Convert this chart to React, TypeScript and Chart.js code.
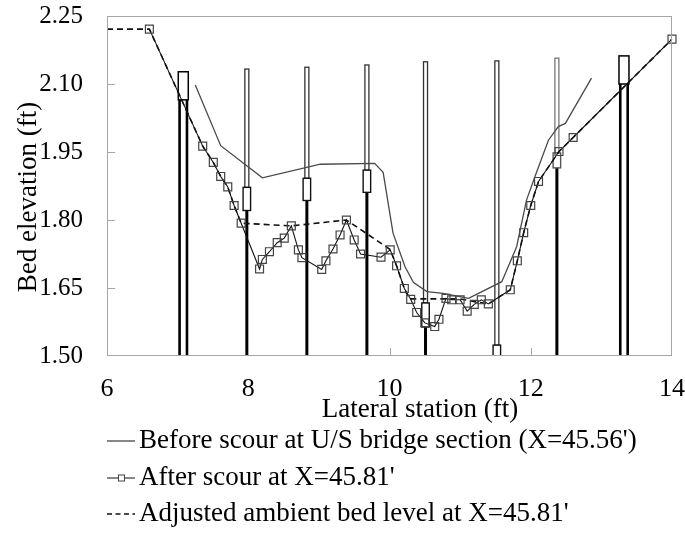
import React, { useEffect, useRef } from 'react';
import { Chart, registerables } from 'chart.js';

Chart.register(...registerables);

// ---------- data ----------
const xTicks = [6, 8, 10, 12, 14];
const yTicks = [1.5, 1.65, 1.8, 1.95, 2.1, 2.25];

const beforeLabel = "Before scour at U/S bridge section (X=45.56')";
const beforeX = [7.25, 7.61, 8.2, 9.02, 9.79, 9.91, 10.05, 10.22, 10.34, 10.53, 10.76, 11.12, 11.59, 11.8, 11.94, 12.06, 12.25, 12.39, 12.49, 12.86];
const beforeY = [2.098, 1.964, 1.893, 1.923, 1.925, 1.905, 1.771, 1.697, 1.662, 1.642, 1.638, 1.627, 1.664, 1.741, 1.844, 1.896, 1.976, 2.006, 2.013, 2.113];

const afterLabel = "After scour at X=45.81'";
const afterX = [6.6, 7.355, 7.505, 7.61, 7.71, 7.8, 7.9, 8.16, 8.2, 8.3, 8.41, 8.51, 8.61, 8.71, 8.76, 9.04, 9.1, 9.2, 9.3, 9.39, 9.5, 9.59, 9.88, 10.01, 10.1, 10.21, 10.3, 10.385, 10.5, 10.64, 10.7, 10.8, 10.88, 11.0, 11.1, 11.2, 11.3, 11.4, 11.71, 11.81, 11.9, 12.0, 12.11, 12.4, 12.6, 14.0];
const afterY = [2.221, 1.963, 1.927, 1.896, 1.873, 1.832, 1.793, 1.692, 1.713, 1.73, 1.75, 1.76, 1.787, 1.734, 1.717, 1.691, 1.71, 1.736, 1.767, 1.8, 1.756, 1.725, 1.718, 1.734, 1.699, 1.649, 1.625, 1.596, 1.573, 1.565, 1.581, 1.627, 1.624, 1.624, 1.599, 1.614, 1.624, 1.615, 1.646, 1.71, 1.772, 1.832, 1.885, 1.951, 1.982, 2.199];

const ambientLabel = "Adjusted ambient bed level at X=45.81'";
const ambientX = [6.0, 6.6, 7.355, 7.505, 7.61, 7.71, 7.8, 7.9, 8.61, 9.39, 10.01, 10.1, 10.21, 10.28, 11.0, 11.2, 11.4, 11.71, 11.81, 11.9, 12.0, 12.11, 12.4, 12.6, 14.0];
const ambientY = [2.221, 2.221, 1.963, 1.927, 1.896, 1.873, 1.832, 1.793, 1.787, 1.8, 1.735, 1.699, 1.649, 1.626, 1.626, 1.62, 1.615, 1.646, 1.71, 1.772, 1.832, 1.885, 1.951, 1.982, 2.199];

// piers: lateral station, top of pile, cap/box top, cap/box bottom, kind
const pierX = [7.08, 7.98, 8.83, 9.68, 10.51, 11.52, 12.37, 13.32];
const pierTop = [2.127, 2.133, 2.137, 2.142, 2.149, 2.151, 2.157, 2.162];
const pierBoxTop = [2.127, 1.872, 1.892, 1.91, 1.617, 1.524, 1.948, 2.162];
const pierBoxBottom = [2.065, 1.821, 1.843, 1.861, 1.564, 1.5, 1.915, 2.1];
const pierKind = ['double', 'single', 'single', 'single', 'single', 'single', 'single', 'double'];

const xTitle = 'Lateral station (ft)';
const yTitle = 'Bed elevation (ft)';

const FONT = "'Liberation Serif', 'Times New Roman', serif";

const toPts = (xs: number[], ys: number[]) => xs.map((x, i) => ({ x, y: ys[i] }));

const decorPlugin = {
  id: 'decor',
  beforeDatasetsDraw(chart: any) {
    const { ctx, chartArea, scales } = chart;
    const xs = scales.x;
    const ys = scales.y;
    ctx.save();
    ctx.beginPath();
    ctx.rect(chartArea.left, chartArea.top, chartArea.right - chartArea.left, chartArea.bottom - chartArea.top);
    ctx.clip();
    const base = ys.getPixelForValue(ys.min);
    for (let i = 0; i < pierX.length; i++) {
      const px = xs.getPixelForValue(pierX[i]);
      const top = ys.getPixelForValue(pierTop[i]);
      const bT = ys.getPixelForValue(pierBoxTop[i]);
      const bB = ys.getPixelForValue(pierBoxBottom[i]);
      if (pierKind[i] === 'double') {
        const hw = 5;
        ctx.fillStyle = '#000';
        ctx.fillRect(px - hw, bB, 2.6, base - bB);
        ctx.fillRect(px + hw - 2.6, bB, 2.6, base - bB);
        ctx.fillStyle = '#fff';
        ctx.fillRect(px - hw, bT, 2 * hw, bB - bT);
        ctx.strokeStyle = '#000';
        ctx.lineWidth = 1.5;
        ctx.strokeRect(px - hw, bT, 2 * hw, bB - bT);
      } else {
        const light = i === 6;
        // stem
        ctx.fillStyle = '#fff';
        ctx.fillRect(px - 2, top, 4, bT - top);
        ctx.strokeStyle = light ? '#777' : '#333';
        ctx.lineWidth = 1.3;
        ctx.strokeRect(px - 2, top, 4, bT - top);
        // leg
        if (base - bB > 0.5) {
          ctx.fillStyle = '#000';
          ctx.fillRect(px - 1.5, bB, 3, base - bB);
        }
        // cap box
        ctx.fillStyle = '#fff';
        ctx.fillRect(px - 3.75, bT, 7.5, bB - bT);
        ctx.strokeStyle = light ? '#555' : '#111';
        ctx.lineWidth = 1.4;
        ctx.strokeRect(px - 3.75, bT, 7.5, bB - bT);
      }
    }
    ctx.restore();
  },
  afterDraw(chart: any) {
    const { ctx, chartArea, scales } = chart;
    const xs = scales.x;
    const ys = scales.y;
    ctx.save();
    // plot frame
    ctx.strokeStyle = '#a6a6a6';
    ctx.lineWidth = 1;
    ctx.strokeRect(chartArea.left + 0.5, chartArea.top + 0.5, chartArea.right - chartArea.left - 1, chartArea.bottom - chartArea.top - 1);
    // inward tick marks
    ctx.beginPath();
    yTicks.slice(1, -1).forEach((v) => {
      const py = Math.round(ys.getPixelForValue(v)) + 0.5;
      ctx.moveTo(chartArea.left, py);
      ctx.lineTo(chartArea.left + 8, py);
    });
    xTicks.slice(1, -1).forEach((v) => {
      const px = Math.round(xs.getPixelForValue(v)) + 0.5;
      ctx.moveTo(px, chartArea.bottom);
      ctx.lineTo(px, chartArea.bottom - 8);
    });
    ctx.stroke();

    // axis titles
    ctx.fillStyle = '#000';
    ctx.font = `27px ${FONT}`;
    ctx.textAlign = 'center';
    ctx.textBaseline = 'middle';
    ctx.fillText(xTitle, 420, 410);
    ctx.save();
    ctx.translate(36, 197);
    ctx.rotate(-Math.PI / 2);
    ctx.textBaseline = 'alphabetic';
    ctx.fillText(yTitle, 0, 0);
    ctx.restore();

    // legend
    const rows = [
      { label: beforeLabel, base: 448 },
      { label: afterLabel, base: 485 },
      { label: ambientLabel, base: 521 },
    ];
    ctx.textAlign = 'left';
    ctx.textBaseline = 'alphabetic';
    rows.forEach((r, i) => {
      const ly = r.base - 7;
      ctx.beginPath();
      if (i === 0) {
        ctx.strokeStyle = '#444';
        ctx.lineWidth = 1.3;
        ctx.setLineDash([]);
      } else if (i === 1) {
        ctx.strokeStyle = '#111';
        ctx.lineWidth = 1;
        ctx.setLineDash([]);
      } else {
        ctx.strokeStyle = '#111';
        ctx.lineWidth = 1.5;
        ctx.setLineDash([5, 3.5]);
      }
      ctx.moveTo(107, ly);
      ctx.lineTo(135, ly);
      ctx.stroke();
      ctx.setLineDash([]);
      if (i === 1) {
        ctx.fillStyle = '#fff';
        ctx.fillRect(118, ly - 3, 6, 6);
        ctx.strokeStyle = '#444';
        ctx.strokeRect(118.5, ly - 3, 6, 6);
      }
      ctx.fillStyle = '#000';
      ctx.fillText(r.label, 139, r.base);
    });
    ctx.restore();
  },
};

const noPad = (s: any) => {
  s.paddingTop = 0;
  s.paddingBottom = 0;
  s.paddingLeft = 0;
  s.paddingRight = 0;
};

export default function App() {
  const ref = useRef<HTMLCanvasElement>(null);
  useEffect(() => {
    document.body.style.margin = '0';
    const chart = new Chart(ref.current as HTMLCanvasElement, {
      type: 'scatter',
      data: {
        datasets: [
          {
            label: beforeLabel,
            data: toPts(beforeX, beforeY),
            showLine: true,
            borderColor: '#4a4a4a',
            borderWidth: 1.3,
            pointRadius: 0,
            tension: 0,
          },
          {
            label: afterLabel,
            data: toPts(afterX, afterY),
            showLine: true,
            borderColor: '#111',
            borderWidth: 1.1,
            pointStyle: 'rect',
            pointRadius: 5.6,
            pointBorderWidth: 1.2,
            pointBorderColor: '#444',
            pointBackgroundColor: 'rgba(0,0,0,0)',
            clip: false,
          },
          {
            label: ambientLabel,
            data: toPts(ambientX, ambientY),
            showLine: true,
            borderColor: '#111',
            borderWidth: 1.6,
            borderDash: [6, 4],
            pointRadius: 0,
          },
        ],
      } as any,
      options: {
        animation: false,
        responsive: false,
        events: [],
        layout: { padding: { left: 0, right: 13, top: 16, bottom: 0 } },
        plugins: {
          legend: { display: false },
          tooltip: { enabled: false },
        },
        scales: {
          x: {
            type: 'linear',
            min: 6,
            max: 14,
            afterFit: (s: any) => { s.height = 177; noPad(s); },
            afterBuildTicks: (s: any) => { s.ticks = xTicks.map((v) => ({ value: v })); },
            grid: { display: false, drawTicks: false },
            border: { display: false },
            ticks: {
              color: '#000',
              font: { family: FONT, size: 26 },
              padding: 18,
              maxRotation: 0,
              callback: (v: any) => String(v),
            },
          },
          y: {
            type: 'linear',
            min: 1.5,
            max: 2.25,
            afterFit: (s: any) => { s.width = 107; noPad(s); },
            afterBuildTicks: (s: any) => { s.ticks = yTicks.map((v) => ({ value: v })); },
            grid: { display: false, drawTicks: false },
            border: { display: false },
            ticks: {
              color: '#000',
              font: { family: FONT, size: 25 },
              padding: 24,
              callback: (v: any) => Number(v).toFixed(2),
            },
          },
        },
      } as any,
      plugins: [decorPlugin],
    });
    return () => chart.destroy();
  }, []);
  return (
    <div style={{ width: 685, height: 533 }}>
      <canvas ref={ref} width={685} height={533} style={{ display: 'block' }} />
    </div>
  );
}
